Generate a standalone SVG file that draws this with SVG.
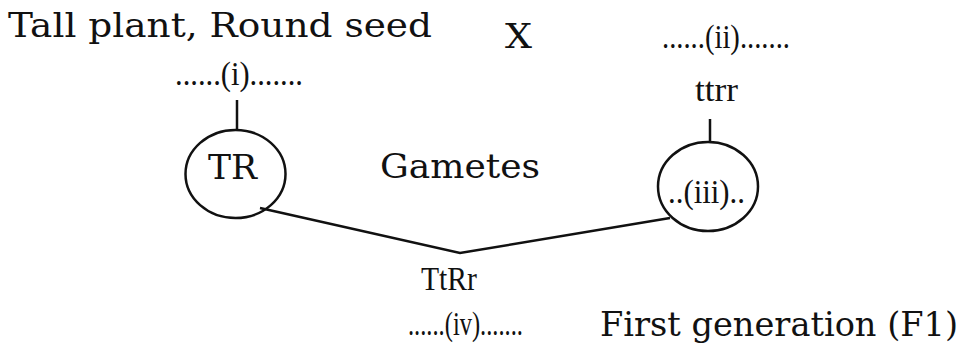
<svg xmlns="http://www.w3.org/2000/svg" width="963" height="345" viewBox="0 0 963 345">
<style>
.big{font-family:"DejaVu Serif","Liberation Serif",serif;font-size:33px;fill:#111}
.sm{font-family:"Liberation Serif",serif;font-size:34px;fill:#111}
.ln{stroke:#111;stroke-width:2.5;fill:none}
</style>
<rect width="963" height="345" fill="#fff"/>
<g id="parent1-label"><text class="big" x="8" y="37" textLength="424" lengthAdjust="spacingAndGlyphs">Tall plant,  Round  seed</text></g>
<g id="cross"><text class="big" x="505" y="48" textLength="27" lengthAdjust="spacingAndGlyphs">X</text></g>
<g id="blank-i"><text class="sm" x="175" y="85" textLength="128" lengthAdjust="spacingAndGlyphs">......(i).......</text></g>
<g id="blank-ii"><text class="sm" x="662" y="48" textLength="128" lengthAdjust="spacingAndGlyphs">......(ii).......</text></g>
<g id="ttrr"><text class="sm" x="695" y="101" textLength="43" lengthAdjust="spacingAndGlyphs">ttrr</text></g>
<g id="gamete-TR"><ellipse class="ln" cx="235.5" cy="174" rx="50" ry="44"/><text class="big" x="208" y="179" textLength="49" lengthAdjust="spacingAndGlyphs">TR</text></g>
<g id="gametes-label"><text class="big" x="380" y="178" textLength="160" lengthAdjust="spacingAndGlyphs">Gametes</text></g>
<g id="gamete-iii"><ellipse class="ln" cx="708" cy="186.5" rx="50" ry="44.5"/><text class="sm" x="668" y="203" textLength="77" lengthAdjust="spacingAndGlyphs">..(iii)..</text></g>
<g id="f1"><text class="sm" x="421" y="290" textLength="56" lengthAdjust="spacingAndGlyphs">TtRr</text></g>
<g id="blank-iv"><text class="sm" x="408" y="335" textLength="115" lengthAdjust="spacingAndGlyphs">......(iv).......</text></g>
<g id="f1-label"><text class="big" x="600" y="336" textLength="358" lengthAdjust="spacingAndGlyphs">First generation (F1)</text></g>
<g id="connectors">
<line class="ln" x1="237" y1="100" x2="237" y2="130"/>
<line class="ln" x1="710" y1="119" x2="710" y2="142"/>
<polyline class="ln" points="260,208 460,253 670,218"/>
</g>
</svg>
